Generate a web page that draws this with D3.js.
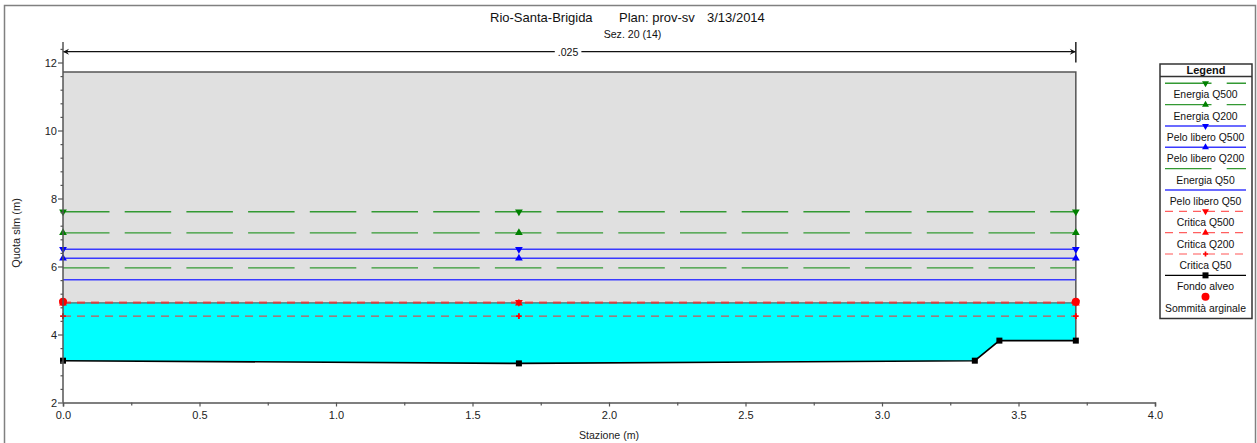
<!DOCTYPE html>
<html>
<head>
<meta charset="utf-8">
<script src="https://cdn.jsdelivr.net/npm/d3@7"></script>
<style>
  html, body { margin: 0; padding: 0; background: #fff; }
  svg { display: block; font-family: "Liberation Sans", Arial, sans-serif; }
</style>
</head>
<body>
<svg id="chart" width="1257" height="443"></svg>
<script>
// ---------------- DATA ----------------
const titleParts = ["Rio-Santa-Brigida", "Plan: prov-sv", "3/13/2014"];
const subtitle = "Sez. 20 (14)";
const xLabel = "Stazione (m)";
const yLabel = "Quota slm (m)";
const xTickValues = [0, 0.5, 1.0, 1.5, 2.0, 2.5, 3.0, 3.5, 4.0];
const yTickValues = [2, 4, 6, 8, 10, 12];

const profileNames = ["Energia Q500", "Energia Q200", "Pelo libero Q500", "Pelo libero Q200",
                      "Energia Q50", "Pelo libero Q50", "Critica Q500", "Critica Q200", "Critica Q50"];
const profileValues = [7.61, 6.99, 6.51, 6.24, 5.96, 5.61, 4.95, 4.92, 4.54];
const markerStations = [0, 1.67, 3.71];

const groundStations = [0, 1.67, 3.34, 3.43, 3.71];
const groundElevations = [3.23, 3.15, 3.23, 3.82, 3.82];

const bankStations = [0, 3.71];
const bankElevations = [4.96, 4.96];

const wallTop = 11.72;
const waterSurface = 4.93;
const nValueLabel = ".025";
const nRange = [0, 3.71];
const legendNames = profileNames.concat(["Fondo alveo", "Sommità arginale"]);

// ---------------- STYLES ----------------
const GREEN = "#339933", GREEN_M = "#008000";
const BLUE = "#3a3aff", BLUE_M = "#0000ff";
const RED = "#ff2a2a", RED_M = "#ff0000";
const styles = [
  {color: GREEN, dash: "46.5,15.2", w: 1.4, mk: "down", mc: GREEN_M},
  {color: GREEN, dash: "46.5,15.2", w: 1.4, mk: "up", mc: GREEN_M},
  {color: BLUE, dash: null, w: 1.5, mk: "down", mc: BLUE_M},
  {color: BLUE, dash: null, w: 1.5, mk: "up", mc: BLUE_M},
  {color: GREEN, dash: "46.5,15.2", w: 1.4, mk: null},
  {color: BLUE, dash: null, w: 1.5, mk: null},
  {color: RED, dash: "8,6", w: 1.2, mk: "down", mc: RED_M, op: 0.75},
  {color: RED, dash: "8,6", w: 1.2, mk: "up", mc: RED_M, op: 0.75},
  {color: RED, dash: "8,6", w: 1.2, mk: "cross", mc: RED_M, op: 0.8}
];

// ---------------- SCALES ----------------
const svg = d3.select("#chart");
const x = d3.scaleLinear().domain([0, 4]).range([63, 1155]);
const y = d3.scaleLinear().domain([2, 12]).range([402.5, 62.5]);

// outer frame
svg.append("rect").attr("x", 4.5).attr("y", 5.5).attr("width", 1251).attr("height", 445)
  .attr("fill", "none").attr("stroke", "#808080").attr("stroke-width", 1.5);

// title
const tx = [490, 619, 707];
titleParts.forEach((t, i) => {
  svg.append("text").attr("x", tx[i]).attr("y", 21.5).attr("font-size", 13)
    .attr("fill", "#111").text(t);
});
svg.append("text").attr("x", 632.5).attr("y", 37.5).attr("text-anchor", "middle")
  .attr("font-size", 10.6).attr("fill", "#111").text(subtitle);

// gray region (walls up to wallTop) and water
const gStations = groundStations, gElev = groundElevations;
const last = gStations.length - 1;
const grayPts = [[x(gStations[0]), y(wallTop)], [x(gStations[last]), y(wallTop)]];
for (let i = last; i >= 0; i--) grayPts.push([x(gStations[i]), y(gElev[i])]);
svg.append("path").attr("d", d3.line()(grayPts) + "Z").attr("fill", "#e0e0e0");

const waterPts = [[x(gStations[0]), y(waterSurface)], [x(gStations[last]), y(waterSurface)]];
for (let i = last; i >= 0; i--) waterPts.push([x(gStations[i]), y(gElev[i])]);
svg.append("path").attr("d", d3.line()(waterPts) + "Z").attr("fill", "#00ffff");

// gray outline
svg.append("path")
  .attr("d", d3.line()([[x(gStations[0]), y(wallTop)], [x(gStations[last]), y(wallTop)], [x(gStations[last]), y(gElev[last])]]))
  .attr("fill", "none").attr("stroke", "#555").attr("stroke-width", 1.5);
// water surface edge
svg.append("line").attr("x1", x(gStations[0])).attr("x2", x(gStations[last]))
  .attr("y1", y(waterSurface)).attr("y2", y(waterSurface))
  .attr("stroke", "#3f6f6f").attr("stroke-width", 1.2);

// n-value arrow
const arrowY = 51.7;
const nx0 = x(nRange[0]), nx1 = x(nRange[1]);
svg.append("line").attr("x1", nx0).attr("x2", nx1).attr("y1", arrowY).attr("y2", arrowY)
  .attr("stroke", "#111").attr("stroke-width", 1.2);
svg.append("path").attr("d", `M${nx0},${arrowY} l6,-3 l-2,3 l2,3 Z`).attr("fill", "#111");
svg.append("path").attr("d", `M${nx1},${arrowY} l-6,-3 l2,3 l-2,3 Z`).attr("fill", "#111");
svg.append("line").attr("x1", nx1).attr("x2", nx1).attr("y1", y(12.6)).attr("y2", y(12))
  .attr("stroke", "#222").attr("stroke-width", 1.5);
const nl = svg.append("text").attr("x", 568).attr("y", arrowY + 3.8).attr("text-anchor", "middle")
  .attr("font-size", 10.5).attr("fill", "#111").text(nValueLabel);
const bb = nl.node().getBBox();
svg.insert("rect", "text:last-of-type").attr("x", bb.x - 3).attr("y", arrowY - 3).attr("width", bb.width + 6)
  .attr("height", 6).attr("fill", "#fff");

// profile lines
profileValues.forEach((v, i) => {
  const s = styles[i];
  svg.append("line").attr("x1", x(gStations[0])).attr("x2", x(gStations[last]))
    .attr("y1", y(v)).attr("y2", y(v))
    .attr("stroke", s.color).attr("stroke-width", s.w)
    .attr("stroke-dasharray", s.dash).attr("stroke-opacity", s.op || 1);
});

// ground line
svg.append("path").attr("d", d3.line().x((d, i) => x(gStations[i])).y(d => y(d))(gElev))
  .attr("fill", "none").attr("stroke", "#000").attr("stroke-width", 1.6);

// marker helper
function drawMarker(g, type, cx, cy, color, scale) {
  scale = scale || 1;
  if (type === "down") {
    g.append("path").attr("d", d3.symbol(d3.symbolTriangle, 26 * scale)())
      .attr("transform", `translate(${cx},${cy}) rotate(180)`).attr("fill", color);
  } else if (type === "up") {
    g.append("path").attr("d", d3.symbol(d3.symbolTriangle, 26 * scale)())
      .attr("transform", `translate(${cx},${cy})`).attr("fill", color);
  } else if (type === "cross") {
    g.append("path").attr("d", d3.symbol(d3.symbolCross, 18 * scale)())
      .attr("transform", `translate(${cx},${cy})`).attr("fill", color);
  } else if (type === "square") {
    g.append("rect").attr("x", cx - 3).attr("y", cy - 3).attr("width", 6).attr("height", 6).attr("fill", color);
  } else if (type === "circle") {
    g.append("circle").attr("cx", cx).attr("cy", cy).attr("r", 4).attr("fill", color);
  }
}

const mg = svg.append("g");
profileValues.forEach((v, i) => {
  const s = styles[i];
  if (!s.mk) return;
  markerStations.forEach(st => drawMarker(mg, s.mk, x(st), y(v), s.mc));
});
gStations.forEach((st, i) => drawMarker(mg, "square", x(st), y(gElev[i]), "#000"));
bankStations.forEach((st, i) => drawMarker(mg, "circle", x(st), y(bankElevations[i]), RED_M));

// axes
const axisColor = "#555";
const xAxis = svg.append("g").attr("transform", `translate(0,${y(2)})`)
  .call(d3.axisBottom(x).tickValues(xTickValues).tickFormat(d3.format(".1f")).tickSize(4).tickPadding(5));
const xMinor = svg.append("g").attr("transform", `translate(0,${y(2)})`)
  .call(d3.axisBottom(x).tickValues(d3.range(0.25, 4, 0.5)).tickFormat("").tickSize(3));
xMinor.select(".domain").remove();

const yAxis = svg.append("g").attr("transform", `translate(${x(0)},0)`)
  .call(d3.axisLeft(y).tickValues(yTickValues).tickSize(5).tickPadding(1));
const yMinor = svg.append("g").attr("transform", `translate(${x(0)},0)`)
  .call(d3.axisLeft(y).tickValues(d3.range(2.4, 12.5, 0.4).filter(v => Math.abs(v / 2 - Math.round(v / 2)) > 0.01)).tickFormat("").tickSize(2.5));
yMinor.select(".domain").remove();
yAxis.select(".domain").remove();
svg.append("line").attr("x1", x(0)).attr("x2", x(0)).attr("y1", y(2)).attr("y2", y(12.6))
  .attr("stroke", axisColor).attr("stroke-width", 1.5);

[xAxis, yAxis].forEach(a => {
  a.selectAll("text").attr("font-size", 11).attr("fill", "#222")
    .attr("font-family", "Liberation Sans, Arial, sans-serif");
  a.select(".domain").attr("stroke", axisColor).attr("stroke-width", 1.5);
  a.selectAll(".tick line").attr("stroke", axisColor).attr("stroke-width", 1.2);
});
[xMinor, yMinor].forEach(a => a.selectAll(".tick line").attr("stroke", axisColor).attr("stroke-width", 1.2));

// axis labels
svg.append("text").attr("x", 609).attr("y", 439).attr("text-anchor", "middle")
  .attr("font-size", 10.6).attr("fill", "#222").text(xLabel);
svg.append("text").attr("transform", "translate(20,233) rotate(-90)").attr("text-anchor", "middle")
  .attr("font-size", 11).attr("fill", "#222").text(yLabel);

// legend
const lg = svg.append("g");
const lx0 = 1160, lx1 = 1252, ly0 = 64, ly1 = 318.5;
lg.append("rect").attr("x", lx0).attr("y", ly0).attr("width", lx1 - lx0).attr("height", ly1 - ly0)
  .attr("fill", "#fff").attr("stroke", "#333").attr("stroke-width", 1.5);
lg.append("line").attr("x1", lx0).attr("x2", lx1).attr("y1", 76.5).attr("y2", 76.5)
  .attr("stroke", "#333").attr("stroke-width", 1.5);
lg.append("text").attr("x", 1206).attr("y", 74).attr("text-anchor", "middle")
  .attr("font-size", 11).attr("font-weight", "bold").attr("fill", "#111").text("Legend");
const lcx = 1205.5;
legendNames.forEach((name, i) => {
  const ly = 83.3 + 21.34 * i;
  if (i < styles.length) {
    const s = styles[i];
    lg.append("line").attr("x1", 1165).attr("x2", 1246).attr("y1", ly).attr("y2", ly)
      .attr("stroke", s.color).attr("stroke-width", s.w).attr("stroke-dasharray", s.dash)
      .attr("stroke-opacity", s.op || 1);
    if (s.mk) drawMarker(lg, s.mk, lcx, ly, s.mc, 0.8);
  } else if (name === "Fondo alveo") {
    lg.append("line").attr("x1", 1165).attr("x2", 1246).attr("y1", ly).attr("y2", ly)
      .attr("stroke", "#000").attr("stroke-width", 1.3);
    drawMarker(lg, "square", lcx, ly, "#000");
  } else {
    drawMarker(lg, "circle", lcx, ly, RED_M);
  }
  lg.append("text").attr("x", lcx).attr("y", ly + 15).attr("text-anchor", "middle")
    .attr("font-size", 10.4).attr("fill", "#111").text(name);
});
</script>
</body>
</html>
